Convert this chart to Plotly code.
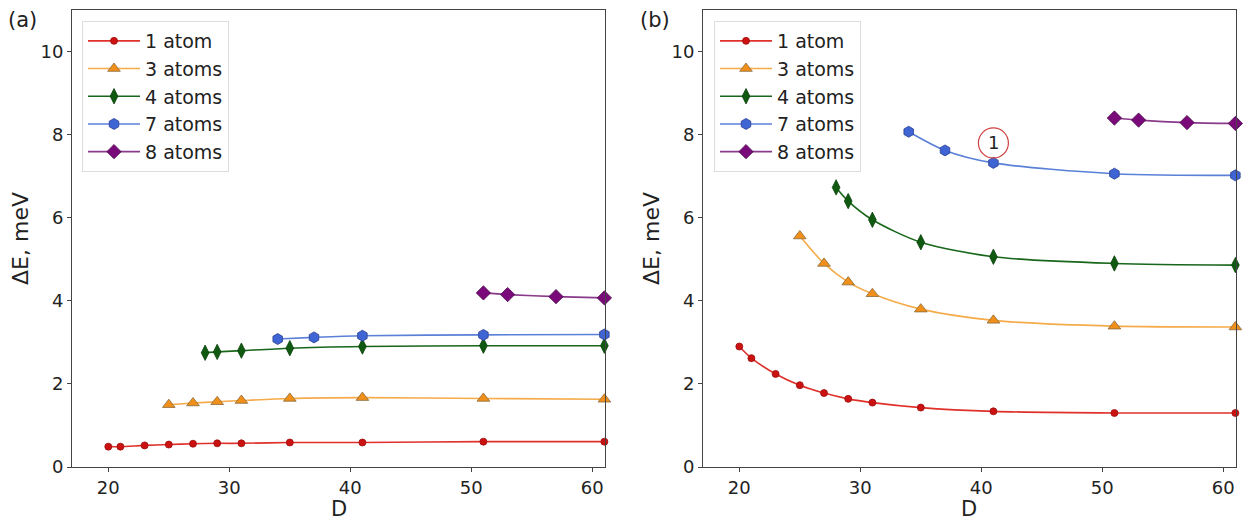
import plotly.graph_objects as go
from plotly.subplots import make_subplots

# ---- data ----
names = ["1 atom", "3 atoms", "4 atoms", "7 atoms", "8 atoms"]

x1 = [20, 21, 23, 25, 27, 29, 31, 35, 41, 51, 61]
x3 = [25, 27, 29, 31, 35, 41, 51, 61]
x4 = [28, 29, 31, 35, 41, 51, 61]
x7 = [34, 37, 41, 51, 61]
x8 = [51, 53, 57, 61]

a1 = [0.49, 0.49, 0.52, 0.54, 0.56, 0.57, 0.57, 0.59, 0.59, 0.61, 0.61]
a3 = [1.50, 1.54, 1.57, 1.60, 1.65, 1.67, 1.65, 1.63]
a4 = [2.75, 2.77, 2.80, 2.86, 2.90, 2.92, 2.92]
a7 = [3.08, 3.12, 3.16, 3.18, 3.19]
a8 = [4.19, 4.15, 4.10, 4.07]

b1 = [2.90, 2.62, 2.24, 1.97, 1.78, 1.64, 1.55, 1.43, 1.34, 1.30, 1.30]
b3 = [5.56, 4.90, 4.45, 4.17, 3.80, 3.53, 3.39, 3.37]
b4 = [6.73, 6.40, 5.95, 5.41, 5.06, 4.90, 4.86]
b7 = [8.07, 7.62, 7.32, 7.06, 7.02]
b8 = [8.40, 8.35, 8.29, 8.27]

xs = [x1, x3, x4, x7, x8]
ya = [a1, a3, a4, a7, a8]
yb = [b1, b3, b4, b7, b8]

xticks = [20, 30, 40, 50, 60]
yticks = [0, 2, 4, 6, 8, 10]

# ---- styles ----
line_colors = ["#e0302a", "#f5ab4a", "#18661a", "#5a80d8", "#8a3a8a"]
marker_fill = ["#cc1111", "#f0901a", "#0f5a10", "#3f64d4", "#7a0a7a"]
marker_edge = ["#9a1010", "#8a6a3a", "#0a400a", "#2a3f90", "#4a0a4a"]
symbols = ["circle", "triangle-up", "diamond-tall", "hexagon", "diamond"]
sizes = [7, 11, 11, 11, 11]

W, H = 1245, 522
ml, mr, mt, mb = 72, 9, 10, 55
pw = W - ml - mr
ph = H - mt - mb

def px2paper_x(px):
    return (px - ml) / pw

def px2paper_y(py):
    return (H - mb - py) / ph

fig = make_subplots(rows=1, cols=2, horizontal_spacing=0.0)

for col, ys, lg in [(1, ya, "legend"), (2, yb, "legend2")]:
    for i in range(5):
        fig.add_trace(go.Scatter(
            x=xs[i], y=ys[i], name=names[i], mode="lines+markers",
            line=dict(color=line_colors[i], width=1.6, shape="spline", smoothing=0.8),
            marker=dict(symbol=symbols[i], size=sizes[i], color=marker_fill[i],
                        line=dict(color=marker_edge[i], width=0.8)),
            legend=lg, cliponaxis=False,
        ), row=1, col=col)

axis_common = dict(
    showgrid=False, zeroline=False, showline=True, linecolor="#444",
    linewidth=1, mirror=True, ticks="outside", ticklen=4, tickcolor="#444",
    tickfont=dict(size=18, color="#222"), automargin=False,
)

fig.update_xaxes(range=[17, 61.05], tickvals=xticks, **axis_common)
fig.update_yaxes(range=[0, 11], tickvals=yticks, **axis_common,
                 title=dict(text="ΔE, meV", font=dict(size=22, color="#222"), standoff=5))

x_dom_a = [0, px2paper_x(605)]
x_dom_b = [px2paper_x(703), 1.0]
fig.update_layout(xaxis=dict(domain=x_dom_a), xaxis2=dict(domain=x_dom_b))

# x-axis titles
for dom in (x_dom_a, x_dom_b):
    fig.add_annotation(text="D", xref="paper", yref="paper",
                       x=(dom[0] + dom[1]) / 2, y=px2paper_y(522),
                       xanchor="center", yanchor="bottom", showarrow=False,
                       font=dict(size=21, color="#222"), borderpad=0)

legend_style = dict(
    bgcolor="rgba(255,255,255,0.9)", bordercolor="#dddddd", borderwidth=1,
    font=dict(size=19, color="#222"), xanchor="left", yanchor="top",
    tracegroupgap=0, itemwidth=52,
)
fig.update_layout(
    legend=dict(x=px2paper_x(82), y=px2paper_y(21), **legend_style),
    legend2=dict(x=px2paper_x(714), y=px2paper_y(21), **legend_style),
)

# panel labels
fig.add_annotation(text="(a)", xref="paper", yref="paper", x=px2paper_x(6), y=px2paper_y(20),
                   xanchor="left", yanchor="middle", showarrow=False,
                   font=dict(size=21, color="#222"))
fig.add_annotation(text="(b)", xref="paper", yref="paper", x=px2paper_x(638), y=px2paper_y(20),
                   xanchor="left", yanchor="middle", showarrow=False,
                   font=dict(size=21, color="#222"))

# circled label "1" on panel b
fig.add_annotation(text="1", xref="x2", yref="y2", x=41, y=7.8, showarrow=False,
                   font=dict(size=18, color="#222"))
fig.add_shape(type="circle", xref="x2", yref="y2", xsizemode="pixel", ysizemode="pixel",
              xanchor=41, yanchor=7.8, x0=-15, x1=15, y0=-15, y1=15,
              line=dict(color="#d04040", width=1.2))

fig.update_layout(
    width=W, height=H,
    margin=dict(l=ml, r=mr, t=mt, b=mb),
    paper_bgcolor="white", plot_bgcolor="white",
    font=dict(family="DejaVu Sans", color="#222"),
)

fig.write_html("out.html")
